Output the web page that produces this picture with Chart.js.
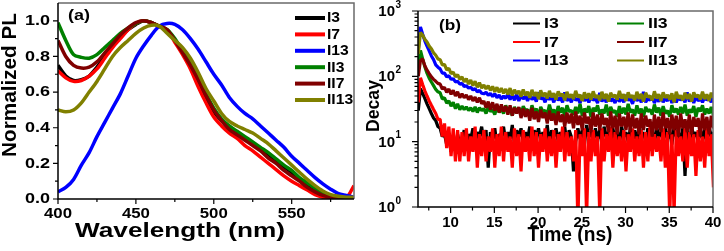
<!DOCTYPE html>
<html>
<head>
<meta charset="utf-8">
<title>PL and decay</title>
<script src="https://cdn.jsdelivr.net/npm/chart.js@4.4.0/dist/chart.umd.min.js"></script>
<style>
    body { margin: 0; background: #fff; }
    #wrap { position: relative; width: 724px; height: 251px; }
    canvas { position: absolute; top: 0; }
    #plChart { left: 0; }
    #decayChart { left: 362px; }
</style>
</head>
<body>
<div id="wrap">
    <canvas id="plChart" width="362" height="251"></canvas>
    <canvas id="decayChart" width="362" height="251"></canvas>
</div>
<script>
// ===== Series names and colours (shared by both panels) =====
const seriesNames = ['I3', 'I7', 'I13', 'II3', 'II7', 'II13'];
const seriesColors = ['#000000', '#ff0000', '#0000ff', '#008000', '#800000', '#808000'];

// ===== Panel (a): normalized PL vs wavelength =====
const wavelengths = [400, 405, 410, 415, 420, 425, 430, 435, 440, 445, 450, 455, 460, 465, 470, 475, 480, 485, 490, 495,
    500, 505, 510, 515, 520, 525, 530, 535, 540, 545, 550, 555, 560, 565, 570, 575, 580, 585, 590];
const plI3 = [0.75, 0.69, 0.665, 0.67, 0.69, 0.74, 0.80, 0.86, 0.91, 0.95, 0.98, 1.0, 0.99, 0.97, 0.95, 0.89, 0.82, 0.75, 0.66, 0.57,
    0.49, 0.44, 0.40, 0.37, 0.34, 0.31, 0.28, 0.25, 0.21, 0.18, 0.15, 0.11, 0.08, 0.05, 0.03, 0.015, 0.005, 0.0, 0.0];
const plI7 = [0.72, 0.68, 0.66, 0.665, 0.69, 0.73, 0.79, 0.85, 0.90, 0.95, 0.985, 1.0, 0.99, 0.97, 0.95, 0.88, 0.81, 0.73, 0.63, 0.54,
    0.46, 0.41, 0.37, 0.34, 0.30, 0.27, 0.235, 0.20, 0.165, 0.13, 0.10, 0.075, 0.05, 0.025, 0.01, 0.0, 0.0, 0.005, 0.075];
const plI13 = [0.04, 0.065, 0.11, 0.19, 0.26, 0.35, 0.43, 0.51, 0.59, 0.69, 0.79, 0.86, 0.92, 0.97, 0.985, 0.98, 0.95, 0.90, 0.84, 0.77,
    0.70, 0.64, 0.57, 0.52, 0.48, 0.45, 0.41, 0.37, 0.33, 0.29, 0.24, 0.20, 0.16, 0.12, 0.085, 0.055, 0.03, 0.02, 0.01];
const plII3 = [0.99, 0.89, 0.81, 0.795, 0.79, 0.81, 0.85, 0.89, 0.93, 0.96, 0.985, 1.0, 0.99, 0.97, 0.95, 0.90, 0.83, 0.76, 0.68, 0.59,
    0.51, 0.45, 0.41, 0.38, 0.35, 0.32, 0.29, 0.26, 0.225, 0.19, 0.16, 0.12, 0.09, 0.06, 0.035, 0.02, 0.01, 0.005, 0.0];
const plII7 = [0.89, 0.80, 0.75, 0.735, 0.74, 0.77, 0.82, 0.87, 0.92, 0.96, 0.99, 1.0, 0.99, 0.97, 0.95, 0.89, 0.82, 0.75, 0.67, 0.58,
    0.50, 0.44, 0.39, 0.36, 0.33, 0.30, 0.27, 0.23, 0.20, 0.16, 0.13, 0.10, 0.065, 0.04, 0.02, 0.01, 0.005, 0.0, 0.0];
const plII13 = [0.50, 0.49, 0.50, 0.54, 0.60, 0.66, 0.73, 0.80, 0.85, 0.89, 0.93, 0.96, 0.975, 0.97, 0.93, 0.89, 0.85, 0.79, 0.71, 0.62,
    0.55, 0.48, 0.435, 0.41, 0.39, 0.37, 0.34, 0.31, 0.27, 0.23, 0.19, 0.15, 0.11, 0.075, 0.045, 0.025, 0.015, 0.01, 0.01];
const wavelengthTicks = [400, 450, 500, 550];
const wavelengthMinor = [425, 475, 525, 575];
const plTicks = [0.0, 0.2, 0.4, 0.6, 0.8, 1.0];
const plMinor = [0.1, 0.3, 0.5, 0.7, 0.9];

// ===== Panel (b): decay vs time (sampled every 0.25 ns from 6.3 ns) =====
const timeStart = 6.3;
const timeStep = 0.25;
const decayI3 = [
    30, 65, 55, 46, 38, 32, 27, 23, 21, 17,
    16, 12, 13, 9, 12, 7, 12, 8, 13, 9,
    10, 15, 8, 13, 11, 16, 9, 14, 12, 17,
    10, 15, 4, 14, 11, 16, 9, 13, 12, 17,
    10, 14, 11, 18, 9, 15, 12, 16, 10, 14,
    11, 17, 9, 15, 12, 16, 10, 14, 11, 18,
    9, 15, 12, 16, 10, 14, 11, 17, 9, 15,
    12, 3.5, 10, 16, 11, 15, 9, 18, 12, 14,
    10, 16, 11, 15, 9, 17, 12, 14, 10, 16,
    11, 15, 9, 17, 12, 14, 10, 16, 11, 15,
    9, 18, 12, 14, 10, 16, 11, 15, 9, 17,
    12, 14, 10, 16, 11, 15, 9, 17, 12, 14,
    10, 16, 3, 15, 9, 17, 12, 14, 10, 16,
    11, 15, 9, 17, 12, 14];
const decayI7 = [
    40, 95, 75, 60, 50, 42, 36, 31, 27, 22,
    22, 12, 19, 8, 17, 6, 16, 5, 15, 5,
    14, 6, 16, 5, 12, 7, 17, 4, 13, 6,
    15, 5, 12, 7, 16, 4, 13, 6, 17, 5,
    14, 7, 12, 4, 16, 6, 13, 3.5, 15, 7,
    12, 5, 17, 6, 14, 4, 13, 7, 16, 5,
    12, 6, 15, 4, 13, 7, 17, 5, 14, 6,
    12, 5, 15, 0.6, 13, 6, 16, 0.7, 14, 5,
    15, 6, 12, 0.8, 16, 5, 13, 7, 17, 4,
    14, 6, 12, 5, 15, 3.5, 13, 7, 16, 5,
    12, 6, 15, 4, 14, 5, 17, 6, 13, 7,
    12, 5, 16, 4, 14, 0.7, 13, 0.8, 15, 6,
    12, 5, 16, 4, 14, 6, 13, 3, 15, 5,
    12, 4, 16, 6, 13, 2];
const decayI13 = [
    250, 570, 440, 350, 290, 245, 205, 180, 150, 138,
    130, 112, 112, 98, 102, 90, 92, 82, 84, 76,
    78, 70, 72, 66, 68, 62, 65, 58, 61, 55,
    54, 57, 51, 55, 49, 54, 47, 52, 45, 50,
    46, 54, 44, 52, 43, 53, 42, 51, 45, 50,
    42, 52, 44, 49, 41, 57, 45, 48, 40, 50,
    44, 49, 40, 51, 43, 47, 40, 57, 42, 48,
    40, 50, 43, 46, 39, 51, 42, 47, 40, 49,
    43, 46, 39, 56, 41, 48, 40, 51, 42, 45,
    39, 49, 41, 47, 40, 52, 43, 46, 38, 50,
    42, 48, 40, 58, 40, 46, 43, 49, 39, 47,
    41, 50, 40, 46, 42, 51, 39, 48, 40, 49,
    43, 47, 40, 57, 41, 48, 39, 51, 42, 46,
    40, 49, 43, 47, 40, 50];
const decayII3 = [
    120, 250, 185, 140, 112, 94, 82, 72, 63, 58,
    56, 45, 47, 39, 42, 35, 40, 32, 38, 31,
    35, 31, 34, 30, 33, 29, 34, 28, 33, 30,
    32, 27, 34, 29, 31, 26, 35, 28, 32, 27,
    36, 29, 31, 25, 34, 28, 33, 26, 35, 30,
    31, 25, 36, 28, 32, 24, 34, 29, 30, 26,
    37, 27, 31, 25, 35, 28, 33, 24, 36, 29,
    30, 26, 34, 27, 38, 25, 32, 28, 35, 24,
    33, 29, 36, 26, 31, 27, 37, 25, 34, 28,
    30, 24, 35, 27, 33, 26, 38, 28, 31, 25,
    36, 27, 32, 24, 34, 29, 31, 26, 37, 28,
    33, 25, 35, 27, 30, 24, 36, 28, 32, 26,
    34, 27, 37, 25, 31, 28, 35, 24, 33, 29,
    36, 26, 32, 27, 34, 25];
const decayII7 = [
    100, 175, 185, 145, 124, 110, 98, 90, 84, 78,
    76, 64, 68, 57, 64, 53, 61, 50, 58, 47,
    54, 47, 52, 44, 50, 42, 48, 40, 47, 38,
    42, 33, 41, 31, 40, 30, 38, 28, 37, 29,
    35, 26, 36, 25, 33, 27, 34, 23, 32, 24,
    31, 21, 33, 22, 29, 20, 31, 23, 28, 19,
    30, 21, 27, 18, 29, 20, 26, 17, 28, 19,
    27, 16, 29, 18, 25, 15, 28, 19, 24, 14,
    28, 17, 26, 15, 27, 18, 23, 14, 29, 16,
    25, 13, 27, 17, 24, 15, 28, 14, 26, 16,
    23, 13, 27, 15, 25, 17, 22, 12, 26, 15,
    24, 14, 28, 16, 23, 13, 26, 15, 25, 12,
    27, 16, 22, 14, 26, 13, 24, 17, 23, 12,
    27, 15, 24, 13, 25, 16];
const decayII13 = [
    220, 470, 430, 370, 335, 290, 265, 230, 210, 185,
    180, 150, 152, 126, 132, 110, 116, 98, 106, 90,
    98, 82, 92, 76, 88, 72, 84, 68, 80, 66,
    74, 64, 72, 61, 70, 58, 68, 57, 66, 55,
    64, 53, 66, 51, 62, 54, 60, 49, 63, 51,
    58, 47, 62, 50, 57, 45, 61, 49, 56, 46,
    60, 48, 55, 44, 59, 50, 54, 43, 58, 47,
    53, 45, 60, 48, 52, 42, 57, 46, 55, 44,
    59, 47, 51, 43, 58, 45, 54, 41, 56, 48,
    52, 44, 60, 46, 53, 42, 57, 47, 51, 43,
    58, 45, 54, 41, 56, 48, 50, 43, 59, 46,
    53, 42, 57, 47, 52, 44, 55, 40, 58, 46,
    51, 43, 56, 45, 54, 41, 57, 48, 52, 44,
    58, 45, 53, 42, 56, 47];
const timeTicks = [10, 15, 20, 25, 30, 35, 40];
const timeMinor = [7.5, 12.5, 17.5, 22.5, 27.5, 32.5, 37.5];
const decayTicks = [1, 10, 100, 1000];
const decayMinor = [2, 3, 4, 5, 6, 7, 8, 9, 20, 30, 40, 50, 60, 70, 80, 90, 200, 300, 400, 500, 600, 700, 800, 900];

const FONT = '"Liberation Sans", Arial, sans-serif';

// ===== Text helper (bold, optional horizontal stretch / rotation) =====
function drawLabel(ctx, str, x, y, opt) {
    ctx.save();
    ctx.font = 'bold ' + opt.size + 'px ' + FONT;
    ctx.fillStyle = '#000';
    ctx.textBaseline = opt.baseline || 'alphabetic';
    ctx.textAlign = 'left';
    const w = ctx.measureText(str).width;
    const sx = opt.width ? opt.width / w : (opt.stretch || 1);
    ctx.translate(x, y);
    if (opt.rotate) ctx.rotate(-Math.PI / 2);
    ctx.scale(sx, 1);
    let dx = 0;
    if (opt.align === 'center') dx = -w / 2;
    else if (opt.align === 'right') dx = -w;
    ctx.fillText(str, dx, 0);
    ctx.restore();
}

// ===== Frame + outward ticks plugin =====
function framePlugin(cfg) {
    return {
        id: 'frame',
        afterDraw(chart) {
            const ctx = chart.ctx;
            const a = chart.chartArea;
            const xs = chart.scales.x;
            const ys = chart.scales.y;
            ctx.save();
            ctx.lineWidth = 1.5;
            ctx.strokeStyle = '#6a6a6a';
            ctx.beginPath();
            ctx.moveTo(a.left, a.top);
            ctx.lineTo(a.right, a.top);
            ctx.lineTo(a.right, a.bottom);
            ctx.stroke();
            ctx.strokeStyle = '#000';
            ctx.beginPath();
            ctx.moveTo(a.left, a.top);
            ctx.lineTo(a.left, a.bottom);
            ctx.lineTo(a.right, a.bottom);
            ctx.stroke();

            ctx.lineWidth = 1.2;
            ctx.beginPath();
            const xTick = (v, len) => {
                const p = xs.getPixelForValue(v);
                ctx.moveTo(p, a.bottom);
                ctx.lineTo(p, a.bottom + len);
            };
            const yTick = (v, len) => {
                const p = ys.getPixelForValue(v);
                ctx.moveTo(a.left, p);
                ctx.lineTo(a.left - len, p);
            };
            cfg.xMajor.forEach(v => xTick(v, cfg.majorLen));
            cfg.xMinor.forEach(v => xTick(v, cfg.minorLen));
            cfg.yMajor.forEach(v => yTick(v, cfg.majorLen));
            cfg.yMinor.forEach(v => yTick(v, cfg.minorLen));
            ctx.stroke();
            ctx.restore();

            cfg.texts(ctx, a, xs, ys);
        }
    };
}

// ===== Panel (a) =====
const plData = [plI3, plI7, plI13, plII3, plII7, plII13];
new Chart(document.getElementById('plChart'), {
    type: 'line',
    data: {
        datasets: plData.map((vals, i) => ({
            label: seriesNames[i],
            data: vals.map((v, k) => ({ x: wavelengths[k], y: v })),
            borderColor: seriesColors[i],
            borderWidth: 3.5,
            pointRadius: 0,
            tension: 0.3,
            order: plData.length - 1 - i
        }))
    },
    options: {
        responsive: false,
        animation: false,
        events: [],
        layout: { padding: { left: 58, right: 8, top: 3, bottom: 52 } },
        plugins: { legend: { display: false }, tooltip: { enabled: false } },
        scales: {
            x: { type: 'linear', min: 400, max: 590, display: false },
            y: { type: 'linear', min: 0, max: 1.1, display: false }
        }
    },
    plugins: [framePlugin({
        xMajor: wavelengthTicks, xMinor: wavelengthMinor,
        yMajor: plTicks, yMinor: plMinor,
        majorLen: 5, minorLen: 3,
        texts(ctx, a, xs, ys) {
            wavelengthTicks.forEach(v => drawLabel(ctx, String(v), xs.getPixelForValue(v), 218,
                { size: 15, align: 'center', stretch: 1.12 }));
            plTicks.forEach(v => drawLabel(ctx, v.toFixed(1), 50, ys.getPixelForValue(v),
                { size: 15, align: 'right', baseline: 'middle', stretch: 1.2 }));
            drawLabel(ctx, 'Wavelength (nm)', 180, 237, { size: 20, align: 'center', width: 210 });
            drawLabel(ctx, 'Normalized PL', 16, 85, { size: 20, align: 'center', rotate: true, width: 144 });
            drawLabel(ctx, '(a)', 68, 20, { size: 15, width: 22 });
            // legend
            seriesNames.forEach((name, i) => {
                const y = 18 + 16.4 * i;
                ctx.save();
                ctx.strokeStyle = seriesColors[i];
                ctx.lineWidth = 4;
                ctx.beginPath();
                ctx.moveTo(295, y);
                ctx.lineTo(325, y);
                ctx.stroke();
                ctx.restore();
                drawLabel(ctx, name, 327, y + 0.5, { size: 14, baseline: 'middle', stretch: 1.12 });
            });
        }
    })]
});

// ===== Panel (b) =====
const decayData = [decayI3, decayI7, decayI13, decayII3, decayII7, decayII13];
new Chart(document.getElementById('decayChart'), {
    type: 'line',
    data: {
        datasets: decayData.map((vals, i) => ({
            label: seriesNames[i],
            data: vals.map((v, k) => ({ x: timeStart + k * timeStep, y: v })),
            borderColor: seriesColors[i],
            borderWidth: 3.2,
            borderJoinStyle: 'bevel',
            pointRadius: 0,
            tension: 0,
            order: decayData.length - 1 - i
        }))
    },
    options: {
        responsive: false,
        animation: false,
        events: [],
        layout: { padding: { left: 56, right: 11, top: 11, bottom: 44 } },
        plugins: { legend: { display: false }, tooltip: { enabled: false } },
        scales: {
            x: { type: 'linear', min: 6.27, max: 40, display: false },
            y: { type: 'logarithmic', min: 1, max: 1000, display: false }
        }
    },
    plugins: [framePlugin({
        xMajor: timeTicks, xMinor: timeMinor,
        yMajor: decayTicks, yMinor: decayMinor,
        majorLen: 6, minorLen: 3.5,
        texts(ctx, a, xs, ys) {
            timeTicks.forEach(v => drawLabel(ctx, String(v), xs.getPixelForValue(v), 226.5,
                { size: 15, align: 'center' }));
            decayTicks.forEach(v => {
                const p = ys.getPixelForValue(v);
                drawLabel(ctx, '10', 33, p + 1, { size: 15, align: 'right', baseline: 'middle' });
                drawLabel(ctx, String(Math.round(Math.log10(v))), 33.5, p - 6, { size: 10, baseline: 'middle' });
            });
            drawLabel(ctx, 'Time (ns)', 208, 240.5, { size: 19.5, align: 'center', width: 85 });
            drawLabel(ctx, 'Decay', 17, 106, { size: 19, align: 'center', rotate: true, width: 52 });
            drawLabel(ctx, '(b)', 77, 30, { size: 15, width: 22 });
            // legend, two columns
            seriesNames.forEach((name, i) => {
                const col = Math.floor(i / 3);
                const y = [23.5, 42, 60.5][i % 3];
                const lx = [151, 255][col];
                ctx.save();
                ctx.strokeStyle = seriesColors[i];
                ctx.lineWidth = 2;
                ctx.beginPath();
                ctx.moveTo(lx, y);
                ctx.lineTo(lx + 27, y);
                ctx.stroke();
                ctx.restore();
                drawLabel(ctx, name, lx + 31, y + 0.5, { size: 15, baseline: 'middle', stretch: 1.18 });
            });
        }
    })]
});
</script>
</body>
</html>
